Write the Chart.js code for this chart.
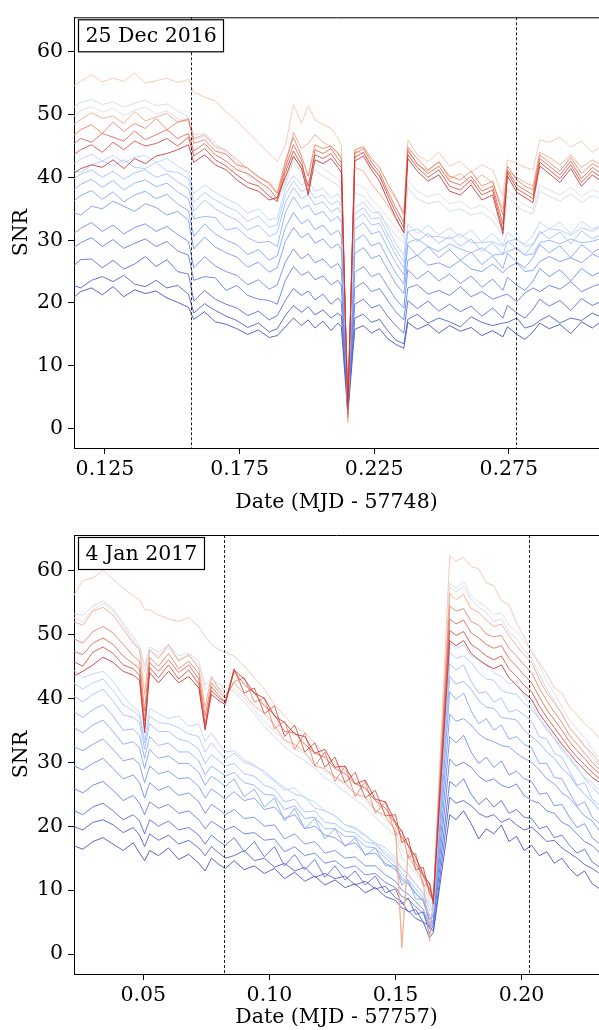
<!DOCTYPE html>
<html>
<head>
<meta charset="utf-8">
<script src="https://cdn.jsdelivr.net/npm/chart.js@4.4.1/dist/chart.umd.min.js"></script>
<style>
  body { margin: 0; background: #fff; }
  canvas { display: block; }
</style>
</head>
<body>
<canvas id="decChart" width="599" height="515"></canvas>
<canvas id="janChart" width="599" height="515"></canvas>
<script>
// ---- 25 Dec 2016 (MJD - 57748) ----
const decDates = [0.112, 0.116, 0.120, 0.124, 0.128, 0.132, 0.136, 0.140, 0.144, 0.148, 0.152, 0.156,
  0.158, 0.162, 0.166, 0.170, 0.174, 0.178, 0.182, 0.186, 0.189,
  0.192, 0.195, 0.198, 0.2005, 0.203, 0.206, 0.209, 0.2115, 0.2128,
  0.2152,
  0.2178, 0.221, 0.224, 0.227, 0.230, 0.233, 0.236,
  0.2375, 0.241, 0.245, 0.249, 0.253, 0.257, 0.261, 0.265, 0.269, 0.2728,
  0.2745, 0.278, 0.281, 0.284, 0.2865, 0.290, 0.294, 0.298, 0.302, 0.306, 0.310];
const decB0 = [20.4, 21.8, 22.4, 21.3, 22.6, 21.0, 22.1, 21.5, 21.9, 20.8, 20.1, 19.3, 17.4, 18.6, 17.0, 16.6, 15.9, 15.0, 15.7, 14.5, 14.8, 16.2, 17.6, 16.4, 17.3, 16.0, 17.1, 15.6, 16.8, 16.2, 2.2, 15.8, 16.4, 15.2, 15.9, 14.3, 13.4, 12.8, 16.9, 15.8, 16.6, 15.2, 16.4, 15.5, 16.1, 14.8, 15.6, 14.6, 16.2, 15.0, 14.2, 15.4, 16.8, 15.9, 16.6, 15.1, 17.0, 16.0, 17.3];
const decB1 = [23.0, 22.4, 23.6, 24.2, 23.4, 24.4, 23.0, 22.6, 23.6, 22.4, 22.8, 21.4, 18.4, 19.9, 18.8, 17.9, 17.2, 16.1, 16.8, 15.4, 15.9, 18.0, 19.6, 18.5, 19.4, 18.1, 18.9, 17.6, 18.4, 17.9, 2.8, 17.6, 18.2, 16.9, 17.4, 15.6, 14.1, 13.5, 17.4, 18.2, 16.8, 17.6, 17.0, 16.2, 17.8, 16.9, 16.4, 16.8, 16.9, 17.6, 16.0, 16.4, 17.2, 18.0, 16.8, 17.6, 17.2, 18.4, 17.6];
const decB2 = [25.4, 26.9, 27.0, 25.6, 26.8, 25.4, 26.2, 27.4, 25.8, 26.9, 25.0, 24.6, 20.3, 22.0, 20.6, 19.8, 19.2, 18.0, 18.7, 17.3, 18.0, 20.4, 22.3, 21.2, 21.9, 20.5, 21.4, 19.8, 20.8, 20.1, 3.1, 19.8, 20.6, 19.2, 19.7, 17.9, 16.4, 15.2, 20.4, 19.1, 20.3, 18.7, 19.8, 18.6, 19.5, 17.9, 19.2, 17.6, 19.6, 18.4, 17.6, 19.0, 20.6, 19.5, 20.4, 18.8, 20.7, 19.6, 20.4];
const decB3 = [28.4, 29.6, 30.4, 29.0, 30.1, 28.7, 29.5, 30.2, 29.0, 29.8, 28.3, 27.6, 23.6, 24.2, 24.0, 22.0, 22.8, 21.2, 20.6, 20.4, 19.8, 23.6, 25.8, 24.4, 25.0, 23.7, 24.3, 22.9, 23.6, 22.8, 3.5, 22.4, 23.3, 21.8, 22.3, 20.4, 18.6, 17.3, 22.4, 22.9, 21.4, 22.0, 21.2, 22.6, 21.0, 21.8, 20.6, 21.2, 21.4, 20.2, 21.6, 22.4, 21.8, 22.8, 22.2, 23.4, 21.8, 22.6, 23.2];
const decB4 = [30.6, 31.9, 32.8, 31.4, 32.4, 31.0, 32.0, 32.6, 31.4, 32.2, 30.9, 29.8, 25.6, 27.4, 25.9, 25.0, 24.4, 22.9, 23.7, 22.2, 22.9, 26.5, 28.6, 27.0, 27.8, 26.4, 27.0, 25.6, 26.3, 25.4, 3.9, 24.9, 25.8, 24.2, 24.7, 22.6, 20.6, 19.2, 25.3, 23.8, 25.1, 23.5, 24.6, 23.1, 24.3, 22.5, 23.8, 22.0, 24.1, 22.8, 22.0, 23.5, 25.5, 24.2, 25.3, 23.5, 25.5, 24.3, 25.2];
const decB5 = [34.6, 34.0, 35.4, 35.0, 36.2, 35.4, 34.6, 35.8, 35.2, 34.0, 34.6, 33.2, 28.6, 30.5, 28.9, 28.0, 27.3, 25.7, 26.5, 24.9, 25.6, 29.8, 32.0, 30.4, 31.1, 29.5, 30.2, 28.7, 29.4, 28.5, 4.2, 27.9, 28.8, 27.1, 27.6, 25.3, 23.1, 21.5, 26.8, 27.6, 26.0, 26.4, 25.6, 26.8, 25.4, 25.0, 26.2, 24.8, 25.6, 26.4, 25.0, 25.2, 26.6, 27.4, 26.6, 27.2, 26.4, 27.8, 27.0];
const decB6 = [35.8, 37.1, 37.9, 36.5, 37.7, 36.1, 37.2, 37.8, 36.6, 37.3, 35.8, 34.7, 30.6, 32.6, 31.0, 30.0, 29.3, 27.7, 28.5, 26.8, 27.5, 32.0, 34.4, 32.6, 33.3, 31.7, 32.4, 30.8, 31.6, 30.6, 4.6, 29.9, 30.9, 29.1, 29.6, 27.1, 24.8, 23.0, 29.2, 27.5, 29.0, 27.2, 28.5, 26.8, 28.1, 26.1, 27.5, 25.5, 27.9, 26.5, 25.6, 27.2, 29.3, 28.0, 29.1, 27.2, 29.3, 28.0, 29.0];
const decB7 = [37.6, 38.9, 39.7, 38.4, 39.5, 38.0, 39.1, 39.6, 38.5, 39.1, 37.7, 36.6, 33.4, 33.8, 33.6, 31.6, 32.0, 30.4, 29.6, 29.8, 29.0, 34.4, 36.9, 35.0, 35.6, 34.0, 34.6, 33.0, 33.8, 32.8, 5.0, 31.8, 32.8, 31.0, 31.4, 28.8, 26.4, 24.5, 29.6, 30.2, 29.0, 28.2, 29.4, 28.6, 28.0, 28.8, 27.6, 27.8, 28.2, 28.8, 27.6, 27.8, 29.6, 30.0, 29.4, 30.2, 29.6, 29.8, 30.4];
const decB8 = [39.4, 40.5, 41.2, 40.0, 41.0, 39.7, 40.7, 41.2, 40.0, 40.6, 39.3, 38.2, 34.6, 36.4, 35.0, 34.0, 33.2, 31.6, 32.4, 30.6, 31.2, 36.0, 38.4, 36.6, 37.2, 35.6, 36.1, 34.5, 35.2, 34.3, 5.3, 33.2, 34.2, 32.4, 32.7, 30.1, 27.6, 25.6, 31.4, 29.8, 31.1, 29.5, 30.6, 29.0, 30.2, 28.2, 29.6, 27.7, 29.9, 28.5, 27.7, 29.3, 31.4, 30.2, 31.3, 29.4, 31.5, 30.2, 31.0];
const decB9 = [41.2, 40.8, 42.0, 42.6, 41.8, 42.8, 41.6, 41.4, 42.4, 41.0, 40.8, 39.8, 36.0, 37.6, 36.4, 35.4, 34.6, 33.0, 33.8, 32.0, 32.5, 37.2, 39.4, 37.7, 38.3, 36.7, 37.2, 35.6, 36.3, 35.4, 5.6, 34.2, 35.2, 33.4, 33.6, 31.0, 28.5, 26.6, 31.4, 31.8, 30.6, 30.6, 30.2, 31.0, 29.6, 29.6, 29.8, 29.0, 29.8, 30.2, 29.0, 29.4, 31.0, 31.8, 31.6, 30.8, 32.0, 31.4, 32.4];
const decB10 = [41.8, 42.9, 43.7, 42.6, 43.5, 42.3, 43.2, 43.5, 42.4, 43.0, 41.8, 40.8, 37.4, 38.8, 37.6, 36.6, 35.8, 34.3, 35.0, 33.2, 33.6, 38.2, 40.3, 38.8, 39.4, 37.8, 38.3, 36.7, 37.4, 36.5, 6.0, 35.2, 36.1, 34.4, 34.5, 32.0, 29.5, 27.6, 32.6, 31.0, 32.4, 30.8, 32.0, 30.4, 31.6, 29.7, 31.1, 29.2, 31.3, 30.0, 29.4, 30.8, 32.9, 31.8, 32.9, 31.0, 33.0, 31.8, 32.5];
const decG1 = [50.8, 51.9, 52.4, 51.6, 52.0, 51.2, 51.8, 52.3, 51.4, 51.7, 50.6, 49.6, 46.8, 47.0, 45.5, 44.0, 42.3, 40.8, 39.2, 37.6, 36.4, 38.8, 42.6, 40.8, 39.5, 41.2, 40.2, 39.4, 38.8, 38.0, 4.0, 37.6, 37.0, 35.4, 34.0, 32.4, 30.8, 29.5, 38.4, 36.6, 35.8, 36.2, 34.6, 35.0, 34.0, 34.4, 33.2, 30.6, 37.0, 35.4, 34.6, 34.2, 37.8, 37.0, 36.2, 37.4, 36.0, 37.1, 36.5];
const decG0 = [49.2, 50.6, 51.3, 50.4, 51.0, 49.8, 50.7, 51.2, 50.1, 50.6, 49.4, 48.8, 46.0, 46.5, 44.8, 43.6, 41.8, 40.3, 38.6, 37.2, 36.0, 39.4, 43.2, 41.6, 40.2, 42.5, 41.4, 40.6, 39.8, 38.9, 3.4, 39.0, 38.5, 36.6, 35.2, 33.6, 32.0, 30.6, 39.6, 37.8, 36.9, 37.4, 35.8, 36.2, 35.0, 35.6, 34.3, 31.8, 38.2, 36.4, 35.6, 35.0, 38.8, 38.0, 37.2, 38.4, 37.0, 38.0, 37.4];
const decS0 = [54.2, 55.3, 56.4, 55.2, 55.8, 55.3, 56.6, 55.0, 55.4, 55.8, 55.1, 55.6, 53.6, 52.8, 52.2, 50.4, 49.0, 47.2, 45.5, 43.8, 42.6, 45.0, 51.6, 48.6, 51.4, 49.2, 48.4, 47.8, 46.3, 45.2, 1.5, 44.2, 43.8, 41.6, 40.2, 38.4, 36.6, 34.0, 46.0, 43.6, 42.5, 44.0, 41.8, 42.6, 40.8, 42.0, 41.2, 37.0, 42.8, 42.2, 41.6, 41.2, 46.0, 45.6, 46.4, 44.8, 45.8, 44.0, 45.2];
const decS1 = [48.0, 49.2, 50.3, 49.4, 49.8, 48.6, 50.5, 49.0, 49.6, 50.2, 48.8, 49.4, 46.2, 46.8, 45.0, 44.3, 42.8, 41.4, 40.2, 38.9, 37.4, 41.8, 47.2, 44.6, 45.4, 46.8, 45.6, 44.9, 44.0, 43.2, 1.0, 41.6, 41.0, 39.0, 37.4, 35.6, 33.4, 31.2, 44.6, 42.0, 41.0, 42.6, 39.8, 40.6, 39.0, 40.4, 39.2, 35.0, 41.0, 40.0, 39.2, 38.6, 44.0, 43.2, 42.0, 43.6, 41.6, 42.8, 41.8];
const decR0 = [46.2, 47.6, 48.4, 47.0, 48.8, 47.3, 48.6, 47.8, 49.4, 47.6, 48.8, 49.2, 45.4, 46.0, 44.2, 43.7, 42.0, 41.5, 40.0, 39.2, 37.5, 42.6, 46.4, 43.4, 40.2, 45.2, 44.6, 45.0, 43.8, 43.0, 1.8, 44.4, 44.9, 43.0, 41.6, 39.0, 36.8, 34.2, 44.8, 43.0, 41.2, 42.4, 40.2, 39.6, 41.0, 38.6, 39.4, 34.0, 41.8, 39.6, 38.6, 38.0, 43.6, 42.4, 41.0, 43.2, 40.6, 42.2, 41.2];
const decR1 = [44.8, 46.2, 45.6, 47.0, 46.4, 45.8, 47.4, 46.0, 46.8, 47.6, 46.2, 47.0, 44.2, 45.4, 43.6, 42.6, 41.2, 40.6, 39.4, 38.2, 36.6, 41.6, 45.2, 42.8, 37.4, 44.4, 43.8, 44.6, 43.0, 42.4, 2.4, 43.8, 44.6, 42.4, 40.8, 37.8, 35.2, 32.8, 44.2, 42.2, 40.6, 41.8, 39.4, 38.8, 40.2, 37.8, 38.6, 32.6, 41.2, 38.8, 38.0, 37.2, 43.0, 41.8, 40.4, 42.6, 39.8, 41.6, 40.4];
const decR2 = [43.2, 44.4, 45.2, 44.0, 45.6, 44.4, 45.8, 45.0, 45.4, 46.2, 45.0, 46.4, 43.4, 44.6, 42.8, 41.8, 40.4, 39.2, 38.6, 37.0, 36.2, 40.8, 44.2, 42.0, 38.6, 43.6, 43.0, 43.8, 42.2, 41.6, 3.0, 43.2, 44.0, 41.8, 40.2, 37.2, 34.4, 32.0, 43.6, 41.6, 40.0, 41.2, 38.6, 38.0, 39.6, 37.2, 38.0, 31.6, 40.8, 38.2, 37.4, 36.6, 42.4, 41.2, 39.8, 42.0, 39.2, 41.0, 39.8];
const decR3 = [40.2, 41.4, 42.0, 41.6, 42.8, 41.4, 43.0, 42.2, 43.4, 43.8, 44.4, 45.2, 42.4, 43.6, 42.0, 41.2, 39.6, 38.4, 37.8, 36.4, 36.8, 40.0, 43.4, 41.4, 37.2, 42.8, 42.2, 43.0, 41.6, 40.8, 3.5, 42.6, 43.4, 41.2, 39.4, 36.4, 33.6, 31.2, 43.0, 41.0, 39.4, 40.4, 37.8, 37.2, 38.8, 36.4, 37.2, 31.0, 40.2, 37.6, 36.8, 36.0, 41.8, 40.6, 39.2, 41.4, 38.6, 40.4, 39.2];
const decMarkers = [0.157, 0.2777];
const decTicks = [0.125, 0.175, 0.225, 0.275];
const decTickLabels = ["0.125", "0.175", "0.225", "0.275"];

// ---- 4 Jan 2017 (MJD - 57757) ----
const janDates = [0.022, 0.026, 0.030, 0.034, 0.038, 0.042, 0.046, 0.0485, 0.0505, 0.0525, 0.056, 0.060, 0.064, 0.068, 0.072, 0.0745, 0.077, 0.080, 0.0825,
  0.086, 0.090, 0.094, 0.098, 0.102, 0.106, 0.110, 0.114, 0.118, 0.122, 0.126, 0.130, 0.134, 0.138, 0.142, 0.146, 0.150, 0.1525, 0.155, 0.158, 0.161, 0.1635, 0.165,
  0.1715,
  0.174, 0.177, 0.180, 0.183, 0.186, 0.189, 0.192, 0.195, 0.198, 0.201, 0.204, 0.207, 0.210, 0.213, 0.216, 0.219, 0.222, 0.225, 0.228, 0.231];
const janB0 = [17.0, 16.4, 17.6, 18.2, 17.2, 16.2, 17.4, 15.8, 14.6, 16.2, 15.4, 16.6, 14.8, 15.6, 14.2, 13.0, 15.0, 14.0, 13.4, 14.6, 13.2, 13.8, 12.6, 13.4, 11.8, 12.8, 11.4, 12.2, 10.8, 11.6, 10.4, 11.0, 9.6, 10.4, 9.0, 8.4, 7.2, 6.8, 5.6, 5.0, 2.6, 3.4, 21.8, 21.0, 22.4, 20.4, 18.0, 19.6, 18.8, 20.2, 17.6, 18.4, 16.2, 17.0, 15.4, 16.0, 14.2, 15.0, 13.4, 12.2, 13.0, 11.0, 10.2];
const janB1 = [20.0, 19.4, 20.6, 21.0, 20.2, 19.0, 19.8, 18.6, 16.8, 18.8, 17.8, 18.6, 17.2, 17.8, 16.6, 15.4, 16.8, 15.8, 15.0, 15.4, 16.2, 14.6, 15.0, 13.6, 14.2, 13.0, 13.6, 12.0, 12.6, 11.8, 12.2, 10.8, 11.4, 10.2, 10.6, 8.8, 8.2, 6.6, 7.0, 5.0, 4.4, 3.6, 24.5, 23.6, 24.0, 23.2, 22.0, 21.4, 21.8, 20.6, 21.2, 20.2, 19.4, 19.8, 18.8, 17.6, 17.8, 16.6, 15.8, 15.0, 14.0, 13.4, 12.6];
const janB2 = [22.5, 21.8, 23.0, 23.6, 22.4, 21.0, 21.8, 20.8, 18.8, 21.0, 20.0, 20.8, 19.4, 19.8, 18.6, 17.2, 18.6, 17.6, 17.0, 18.2, 16.0, 17.6, 15.2, 16.8, 13.8, 15.6, 13.2, 14.8, 12.0, 13.8, 11.6, 13.0, 10.8, 12.2, 9.6, 10.2, 7.8, 8.8, 6.2, 6.6, 3.2, 4.6, 27.0, 26.2, 27.4, 25.0, 23.4, 24.4, 23.0, 24.0, 22.0, 22.6, 21.4, 21.2, 19.6, 20.0, 18.2, 18.6, 17.0, 15.8, 16.4, 14.4, 13.6];
const janB3 = [26.0, 25.2, 26.4, 27.0, 25.6, 24.0, 24.8, 23.6, 21.8, 23.8, 22.8, 23.4, 22.0, 22.4, 21.0, 19.6, 20.8, 20.0, 19.4, 20.0, 18.8, 19.0, 17.8, 18.0, 16.0, 16.8, 15.4, 15.8, 14.2, 14.6, 13.4, 13.8, 12.4, 12.6, 11.2, 10.4, 9.0, 8.6, 7.4, 6.4, 4.0, 5.0, 30.5, 29.4, 30.0, 29.2, 27.8, 27.0, 27.4, 26.4, 26.0, 26.6, 24.8, 24.0, 23.6, 22.4, 22.0, 20.6, 20.0, 18.8, 17.6, 17.0, 15.8];
const janB4 = [29.5, 28.8, 29.8, 30.6, 29.0, 27.4, 28.0, 26.8, 24.4, 26.8, 25.6, 26.2, 24.8, 25.2, 23.8, 22.0, 23.4, 22.6, 21.8, 22.6, 21.2, 21.4, 20.0, 20.2, 18.0, 18.8, 17.2, 17.6, 15.8, 16.2, 15.0, 15.2, 13.8, 13.8, 12.4, 11.4, 10.0, 9.4, 8.2, 7.0, 4.4, 5.4, 34.0, 33.0, 34.2, 31.6, 29.8, 30.8, 29.2, 30.2, 28.0, 28.6, 27.4, 27.0, 25.0, 25.2, 23.2, 23.4, 21.4, 19.8, 20.4, 18.2, 17.2];
const janB5 = [32.5, 31.8, 32.8, 33.6, 32.0, 30.2, 30.6, 29.6, 26.8, 29.4, 28.2, 28.6, 27.4, 27.6, 26.2, 24.4, 25.8, 25.0, 24.2, 25.4, 24.0, 24.4, 22.6, 23.0, 21.2, 21.8, 19.6, 20.0, 18.6, 18.2, 17.0, 17.4, 15.6, 15.8, 14.2, 13.2, 11.6, 11.0, 9.4, 8.2, 5.4, 6.0, 37.5, 36.4, 36.8, 35.8, 34.4, 33.6, 33.2, 32.6, 32.4, 31.4, 30.6, 30.0, 28.8, 27.4, 26.6, 25.2, 24.4, 23.0, 21.6, 20.8, 19.2];
const janB6 = [35.5, 34.6, 35.8, 36.6, 34.8, 32.8, 33.2, 32.2, 29.0, 32.0, 30.6, 31.0, 29.8, 29.8, 28.4, 26.4, 27.8, 27.0, 26.2, 27.4, 24.6, 25.8, 23.0, 24.4, 20.8, 22.8, 19.6, 21.2, 18.0, 19.6, 16.8, 18.2, 15.4, 16.6, 13.8, 13.8, 10.8, 11.6, 8.6, 8.6, 4.8, 6.2, 41.0, 39.8, 40.8, 38.0, 36.0, 36.8, 35.0, 35.8, 33.6, 34.0, 32.8, 32.2, 29.8, 29.8, 27.6, 27.4, 25.2, 23.2, 23.8, 21.4, 20.4];
const janB7 = [38.0, 37.0, 38.2, 39.0, 37.2, 35.0, 35.2, 34.2, 30.6, 34.0, 32.6, 33.0, 31.6, 31.6, 30.2, 28.0, 29.4, 28.6, 27.8, 28.4, 26.8, 26.4, 25.0, 24.8, 22.6, 23.2, 21.2, 21.4, 19.6, 19.6, 18.4, 18.4, 16.8, 16.6, 15.0, 13.6, 12.0, 11.2, 9.6, 8.4, 5.6, 6.2, 43.4, 42.2, 42.6, 41.4, 39.6, 38.6, 38.4, 37.0, 36.8, 36.6, 35.0, 34.0, 33.0, 31.6, 30.6, 29.0, 28.0, 26.2, 25.0, 23.8, 22.4];
const janB8 = [40.5, 39.4, 40.6, 41.4, 39.6, 37.4, 37.0, 36.2, 32.0, 36.0, 34.8, 34.8, 33.6, 33.2, 32.0, 29.8, 31.2, 30.2, 29.4, 29.8, 28.2, 27.8, 26.4, 25.8, 23.8, 24.2, 22.2, 22.4, 20.6, 20.4, 19.2, 19.0, 17.6, 17.2, 15.6, 14.2, 12.6, 11.6, 10.2, 8.8, 6.0, 6.4, 45.4, 44.4, 45.2, 42.6, 40.8, 41.0, 39.4, 40.0, 37.8, 38.2, 37.4, 36.4, 34.0, 33.6, 31.4, 30.8, 28.6, 26.4, 26.8, 24.2, 23.2];
const janB9 = [42.5, 41.4, 42.4, 43.0, 41.2, 39.0, 38.0, 37.2, 33.0, 37.2, 36.2, 36.0, 35.4, 34.4, 34.0, 31.6, 33.0, 31.6, 30.4, 31.4, 30.0, 29.4, 28.6, 27.2, 26.0, 25.0, 24.6, 22.8, 22.4, 21.6, 20.2, 19.8, 18.6, 17.4, 16.6, 15.0, 13.4, 12.6, 11.0, 9.6, 6.8, 7.0, 47.2, 46.2, 46.6, 45.6, 44.0, 43.0, 42.8, 41.2, 40.8, 40.6, 39.2, 38.2, 36.8, 35.0, 33.8, 32.2, 30.8, 29.2, 27.4, 26.2, 24.8];
const janB10 = [44.5, 43.2, 43.8, 44.2, 42.6, 40.4, 38.6, 37.8, 33.5, 38.4, 37.6, 36.8, 37.2, 35.6, 36.0, 33.2, 34.6, 32.8, 31.6, 31.8, 30.4, 29.6, 28.2, 27.0, 25.6, 26.0, 24.4, 23.8, 22.4, 21.6, 20.2, 19.6, 18.4, 17.2, 16.0, 14.6, 13.4, 12.2, 11.0, 9.4, 7.8, 6.6, 48.6, 47.8, 48.4, 46.6, 46.0, 45.2, 44.0, 43.4, 42.2, 42.6, 40.4, 39.0, 36.8, 35.4, 33.6, 31.8, 30.4, 29.0, 27.6, 26.8, 25.4];
const janG1 = [53.2, 53.0, 54.4, 55.2, 54.0, 51.8, 49.6, 48.2, 45.0, 48.0, 47.2, 48.2, 46.6, 47.0, 45.8, 42.0, 43.0, 42.2, 41.6, 41.0, 39.4, 37.6, 35.6, 34.0, 32.4, 31.2, 30.2, 29.0, 27.6, 26.6, 25.4, 24.2, 23.0, 21.4, 20.0, 18.4, 15.0, 14.2, 12.6, 11.0, 8.2, 7.6, 57.4, 56.6, 57.4, 55.4, 54.2, 53.4, 52.0, 52.4, 50.4, 49.2, 47.6, 46.2, 43.8, 41.4, 39.6, 37.4, 35.4, 34.0, 32.6, 30.8, 29.4];
const janG0 = [52.6, 52.0, 53.8, 54.8, 53.6, 51.4, 49.0, 47.6, 44.2, 47.4, 46.6, 47.8, 46.0, 46.6, 45.2, 41.2, 42.6, 41.6, 41.0, 41.4, 40.0, 38.2, 36.4, 34.8, 33.6, 32.0, 31.4, 30.0, 28.6, 27.8, 26.4, 25.2, 24.0, 22.6, 21.0, 19.6, 16.2, 15.4, 13.8, 12.2, 9.0, 8.2, 58.0, 57.2, 58.2, 56.0, 55.0, 54.2, 53.0, 53.4, 51.4, 50.4, 48.8, 47.6, 45.2, 42.6, 40.8, 38.6, 36.6, 35.2, 33.8, 32.0, 30.4];
const janS0 = [55.8, 58.4, 58.8, 60.0, 58.6, 57.2, 56.0, 55.4, 53.8, 53.8, 53.0, 52.4, 52.0, 52.6, 51.2, 49.6, 48.4, 47.6, 47.2, 46.6, 45.0, 43.2, 41.4, 39.0, 37.2, 35.6, 34.6, 33.0, 31.0, 30.0, 28.6, 27.4, 25.8, 24.0, 22.0, 20.4, 1.4, 16.2, 14.8, 13.0, 9.8, 9.0, 62.3, 61.4, 62.0, 60.6, 60.2, 58.0, 57.6, 55.2, 54.6, 51.8, 49.6, 47.0, 45.6, 43.8, 41.6, 40.8, 38.6, 37.4, 36.0, 35.0, 33.6];
const janS1 = [52.0, 51.4, 53.6, 54.2, 53.0, 50.8, 48.6, 47.6, 40.6, 47.6, 46.2, 48.4, 45.8, 46.8, 44.6, 38.6, 43.4, 41.4, 40.4, 42.4, 40.6, 38.8, 37.6, 35.8, 33.4, 32.8, 31.6, 29.4, 29.0, 27.6, 26.8, 25.0, 24.6, 22.4, 21.6, 19.2, 1.0, 15.6, 13.2, 11.4, 2.0, 8.8, 56.4, 55.4, 56.2, 54.0, 53.4, 52.2, 51.2, 51.6, 49.8, 48.2, 46.8, 45.6, 43.0, 40.8, 39.2, 37.6, 35.4, 34.0, 32.4, 31.4, 29.8];
const janR0 = [49.4, 48.6, 50.4, 51.2, 50.2, 48.4, 46.6, 45.8, 38.0, 46.4, 45.0, 47.0, 44.6, 45.8, 43.8, 37.2, 42.4, 41.0, 40.0, 42.6, 43.2, 39.4, 40.0, 35.2, 36.4, 32.0, 34.6, 29.4, 31.6, 27.0, 29.4, 24.6, 27.0, 22.0, 23.8, 18.6, 19.4, 15.0, 15.8, 10.6, 11.2, 8.6, 54.4, 53.6, 54.0, 52.0, 51.4, 50.0, 49.6, 49.8, 47.8, 46.6, 45.2, 44.0, 41.6, 39.6, 37.8, 36.2, 34.2, 32.8, 31.4, 30.0, 28.8];
const janR1 = [47.4, 46.8, 48.6, 49.4, 48.4, 46.6, 45.4, 44.6, 36.4, 45.6, 44.2, 46.0, 44.0, 45.2, 43.0, 36.0, 41.8, 40.4, 39.4, 44.2, 42.2, 40.8, 38.8, 37.4, 34.8, 34.6, 32.8, 31.4, 30.8, 29.0, 28.2, 26.6, 26.0, 24.0, 22.8, 20.4, 18.2, 17.0, 14.2, 12.2, 10.2, 8.6, 52.4, 51.6, 52.2, 50.2, 49.4, 48.4, 47.8, 48.2, 46.2, 45.0, 43.6, 42.4, 40.2, 38.2, 36.6, 35.0, 33.2, 31.8, 30.6, 29.2, 28.2];
const janR2 = [45.8, 45.0, 47.2, 48.0, 47.0, 45.2, 44.6, 43.6, 35.2, 44.8, 43.2, 45.2, 43.0, 44.4, 42.2, 35.4, 41.2, 40.0, 39.4, 44.6, 40.8, 41.6, 37.6, 38.8, 34.0, 35.8, 31.6, 33.0, 29.2, 30.8, 26.8, 28.4, 24.4, 25.6, 21.6, 21.8, 17.4, 18.2, 13.2, 13.6, 9.4, 8.4, 50.6, 49.8, 50.4, 48.4, 47.6, 46.6, 46.0, 46.6, 44.6, 43.4, 42.0, 41.0, 38.8, 37.0, 35.4, 33.8, 32.2, 30.8, 29.6, 28.4, 27.4];
const janR3 = [43.4, 44.2, 45.2, 46.4, 45.6, 44.2, 43.6, 42.8, 34.6, 44.0, 42.4, 44.2, 42.4, 43.4, 41.6, 35.0, 40.6, 39.6, 39.0, 44.4, 43.0, 40.8, 40.0, 37.2, 36.2, 34.4, 34.0, 31.4, 32.0, 29.2, 29.4, 26.6, 27.2, 24.2, 23.8, 20.6, 19.2, 17.0, 15.2, 12.4, 11.0, 7.8, 49.0, 48.2, 49.0, 47.0, 46.0, 45.2, 44.6, 45.2, 43.2, 42.0, 40.8, 39.8, 37.6, 36.0, 34.4, 32.8, 31.4, 30.0, 28.8, 27.6, 26.8];
const janMarkers = [0.082, 0.2029];
const janTicks = [0.05, 0.10, 0.15, 0.20];
const janTickLabels = ["0.05", "0.10", "0.15", "0.20"];

const snrTicks = [0, 10, 20, 30, 40, 50, 60];

// coolwarm colours, cool -> warm, same order as the series lists below
const lineColors = [
  "rgba(59,76,192,0.85)", "rgba(68,90,204,0.85)", "rgba(79,105,217,0.85)", "rgba(90,120,228,0.85)",
  "rgba(102,135,237,0.85)", "rgba(114,149,244,0.85)", "rgba(126,161,250,0.85)", "rgba(139,173,253,0.85)",
  "rgba(154,187,255,0.85)", "rgba(169,198,253,0.85)", "rgba(185,208,249,0.85)", "rgba(201,215,240,0.85)",
  "rgba(221,220,220,0.85)", "rgba(245,194,170,0.85)", "rgba(246,163,133,0.85)", "rgba(236,127,99,0.85)",
  "rgba(224,101,79,0.85)", "rgba(210,75,64,0.85)", "rgba(197,51,52,0.85)"
];

const decSeries = [decB0, decB1, decB2, decB3, decB4, decB5, decB6, decB7, decB8, decB9, decB10,
  decG1, decG0, decS0, decS1, decR0, decR1, decR2, decR3];
const janSeries = [janB0, janB1, janB2, janB3, janB4, janB5, janB6, janB7, janB8, janB9, janB10,
  janG1, janG0, janS0, janS1, janR0, janR1, janR2, janR3];

Chart.defaults.font.family = "'DejaVu Serif', serif";
Chart.defaults.font.size = 20.5;
Chart.defaults.color = "#000";

// top spine, dashed markers and the date box
const panelDecor = {
  id: "panelDecor",
  afterDatasetsDraw(chart, args, opts) {
    const { ctx, chartArea: a, scales } = chart;
    ctx.save();
    ctx.strokeStyle = "#222";
    ctx.lineWidth = 1;
    ctx.setLineDash([3, 2]);
    opts.markers.forEach((v) => {
      const x = Math.round(scales.x.getPixelForValue(v)) + 0.5;
      ctx.beginPath();
      ctx.moveTo(x, a.top);
      ctx.lineTo(x, a.bottom);
      ctx.stroke();
    });
    ctx.setLineDash([]);
    ctx.strokeStyle = "#000";
    ctx.beginPath();
    ctx.moveTo(a.left, a.top + 0.5);
    ctx.lineTo(a.right, a.top + 0.5);
    ctx.stroke();

    ctx.font = "20.5px 'DejaVu Serif'";
    const w = ctx.measureText(opts.label).width;
    const bx = a.left + 4.5, by = a.top + 2.5, bw = Math.round(w + 14), bh = 32;
    ctx.fillStyle = "#fff";
    ctx.fillRect(bx, by, bw, bh);
    ctx.lineWidth = 1.2;
    ctx.strokeRect(bx, by, bw, bh);
    ctx.fillStyle = "#000";
    ctx.textBaseline = "middle";
    ctx.fillText(opts.label, bx + 7, by + bh / 2 + 1);
    ctx.restore();
  },
};

function makePanel(id, dates, series, cfg) {
  const ctx = document.getElementById(id).getContext("2d");
  return new Chart(ctx, {
    type: "line",
    data: {
      datasets: series.map((vals, i) => ({
        data: dates.map((d, j) => ({ x: d, y: vals[j] })),
        borderColor: lineColors[i],
        borderWidth: 1,
        pointRadius: 0,
        tension: 0,
        fill: false,
        clip: 0,
        order: series.length - i,
      })),
    },
    options: {
      responsive: false,
      animation: false,
      devicePixelRatio: 1,
      layout: { padding: { left: 0, right: 0, top: cfg.top, bottom: 0 } },
      plugins: {
        legend: { display: false },
        tooltip: { enabled: false },
        panelDecor: { markers: cfg.markers, label: cfg.label },
      },
      scales: {
        x: {
          type: "linear",
          min: cfg.xmin,
          max: cfg.xmax,
          afterBuildTicks: (s) => { s.ticks = cfg.ticks.map((v) => ({ value: v })); },
          afterFit: (s) => { s.height = cfg.axisH; },
          ticks: {
            autoSkip: false,
            maxRotation: 0,
            padding: 3,
            callback: (v, i) => cfg.tickLabels[i],
          },
          grid: { drawOnChartArea: false, tickLength: 6, color: "#000" },
          border: { color: "#000", width: 1 },
          title: { display: true, text: cfg.xTitle, padding: { top: cfg.titlePad, bottom: 0 } },
        },
        y: {
          min: -3.1,
          max: 65.5,
          afterBuildTicks: (s) => { s.ticks = snrTicks.map((v) => ({ value: v })); },
          afterFit: (s) => { s.width = 74; },
          ticks: { padding: 5 },
          grid: { drawOnChartArea: false, tickLength: 6, color: "#000" },
          border: { color: "#000", width: 1 },
          title: { display: true, text: "SNR", padding: { top: 9, bottom: 0 } },
        },
      },
    },
    plugins: [panelDecor],
  });
}

makePanel("decChart", decDates, decSeries, {
  top: 10, axisH: 67, titlePad: 10,
  xmin: 0.1135, xmax: 0.3085,
  ticks: decTicks, tickLabels: decTickLabels,
  markers: decMarkers, label: "25 Dec 2016",
  xTitle: "Date (MJD - 57748)",
});

makePanel("janChart", janDates, janSeries, {
  top: 20, axisH: 56, titlePad: 0,
  xmin: 0.0225, xmax: 0.2307,
  ticks: janTicks, tickLabels: janTickLabels,
  markers: janMarkers, label: "4 Jan 2017",
  xTitle: "Date (MJD - 57757)",
});
</script>
</body>
</html>
